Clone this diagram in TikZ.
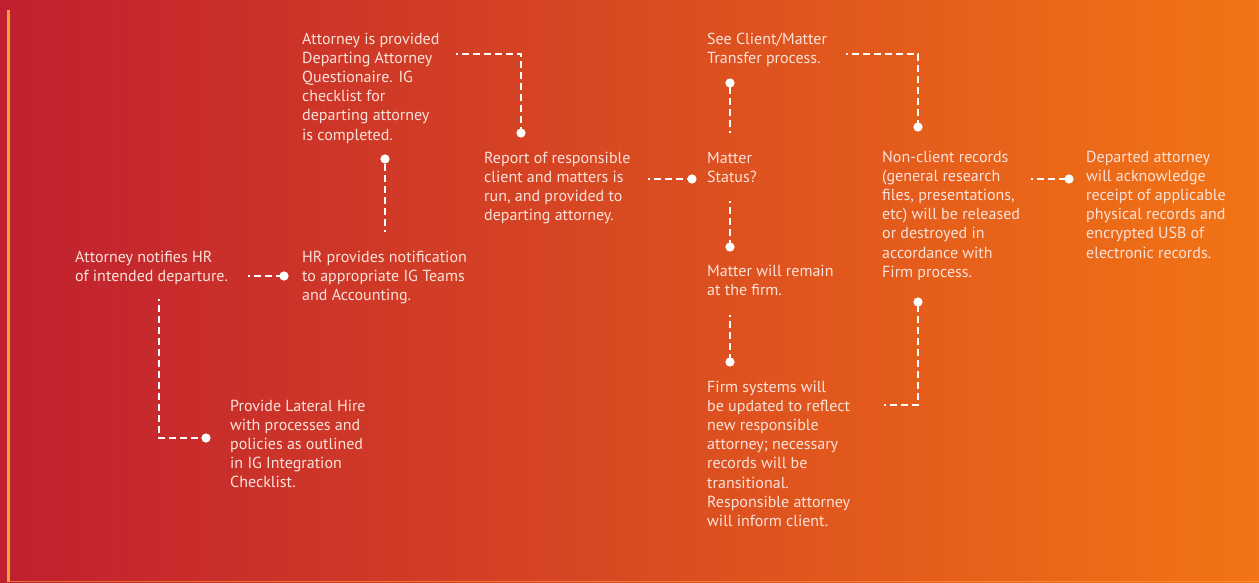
\documentclass[tikz,border=0pt]{standalone}
\usepackage{fontspec}
\setmainfont{PT Sans}
\usetikzlibrary{arrows.meta}

\definecolor{bgleft}{HTML}{C0202F}
\definecolor{bgmid}{HTML}{D43C28}
\definecolor{bgright}{HTML}{F27414}
\definecolor{edgeline}{HTML}{F7A33B}
\definecolor{txtcol}{HTML}{FBE2DA}

\tikzset{
    % anchored at the baseline of the last line
    stepnote/.style={anchor=base west, align=left, inner sep=0pt, text=txtcol,
        font=\fontsize{16}{19.2}\selectfont},
    flow/.style={draw=white, line width=2.8pt, dash pattern=on 7pt off 4pt,
        dash phase=5pt, -{Circle[length=9pt,width=9pt]}}
}

\begin{document}
\begin{tikzpicture}[x=1pt,y=-1pt]
    % background
    \useasboundingbox (0,0) rectangle (1259,582);
    \shade[left color=bgleft, middle color=bgmid, right color=bgright] (0,0) rectangle (1259,582);
    \draw[edgeline, line width=3pt] (8,10) -- (8,582);
    \draw[edgeline, opacity=0.6, line width=1pt] (8,581) -- (1259,581);

    % steps
    \node[stepnote] (notify) at (75,281.2) {Attorney notifies HR\\of intended departure.};
    \node[stepnote] (hrnote) at (302,300.4) {HR provides notification\\to appropriate IG Teams\\and Accounting.};
    \node[stepnote] (quest) at (302,140) {Attorney is provided\\Departing Attorney\\Questionaire. IG\\checklist for\\departing attorney\\is completed.};
    \node[stepnote] (report) at (484,220.6) {Report of responsible\\client and matters is\\run, and provided to\\departing attorney.};
    \node[stepnote] (transfer) at (707,63.2) {See Client/Matter\\Transfer process.};
    \node[stepnote] (status) at (707,182.2) {Matter\\Status?};
    \node[stepnote] (remain) at (707,295.2) {Matter will remain\\at the firm.};
    \node[stepnote] (update) at (707,526.4) {Firm systems will\\be updated to reflect\\new responsible\\attorney; necessary\\records will be\\transitional.\\Responsible attorney\\will inform client.};
    \node[stepnote] (nonclient) at (882,277.2) {Non-client records\\(general research\\files, presentations,\\etc) will be released\\or destroyed in\\accordance with\\Firm process.};
    \node[stepnote] (ack) at (1086,258) {Departed attorney\\will acknowledge\\receipt of applicable\\physical records and\\encrypted USB of\\electronic records.};
    \node[stepnote] (lateral) at (230,487.8) {Provide Lateral Hire\\with processes and\\policies as outlined\\in IG Integration\\Checklist.};

    % connector ends
    \coordinate (notify-out) at (248,276);
    \coordinate (hrnote-in) at (288.5,276);
    \coordinate (hrnote-out) at (385,232);
    \coordinate (quest-in) at (385,154.5);
    \coordinate (quest-out) at (456,54);
    \coordinate (report-in) at (521,137.5);
    \coordinate (report-out) at (648,179);
    \coordinate (status-in) at (696.5,179);
    \coordinate (status-up) at (730,133);
    \coordinate (transfer-in) at (730,78.5);
    \coordinate (status-down) at (730,201);
    \coordinate (remain-in) at (730,251.5);
    \coordinate (remain-out) at (730,315);
    \coordinate (update-in) at (730,366.5);
    \coordinate (transfer-out) at (846,54);
    \coordinate (nonclient-top) at (918,131.5);
    \coordinate (update-out) at (884,405);
    \coordinate (nonclient-bot) at (918,297.5);
    \coordinate (nonclient-out) at (1031,179);
    \coordinate (ack-in) at (1073.5,179);
    \coordinate (notify-down) at (159,299);
    \coordinate (lateral-in) at (210.5,438);

    % connectors
    \draw[flow] (notify-out) -- (hrnote-in);
    \draw[flow] (hrnote-out) -- (quest-in);
    \draw[flow] (quest-out) -| (report-in);
    \draw[flow] (report-out) -- (status-in);
    \draw[flow] (status-up) -- (transfer-in);
    \draw[flow] (status-down) -- (remain-in);
    \draw[flow] (remain-out) -- (update-in);
    \draw[flow] (transfer-out) -| (nonclient-top);
    \draw[flow] (update-out) -| (nonclient-bot);
    \draw[flow] (nonclient-out) -- (ack-in);
    \draw[flow] (notify-down) |- (lateral-in);
\end{tikzpicture}
\end{document}
